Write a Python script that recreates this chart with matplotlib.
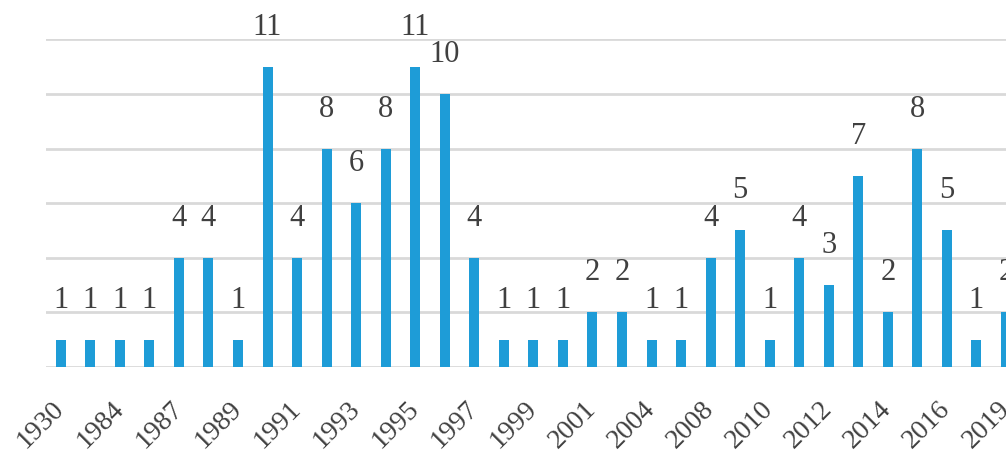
import matplotlib
matplotlib.use("Agg")
import matplotlib.pyplot as plt
from matplotlib.transforms import ScaledTranslation

# counts per year (33 bars, only every other year is labelled)
values = [1, 1, 1, 1, 4, 4, 1, 11, 4, 8, 6, 8, 11, 10, 4, 1, 1,
          1, 2, 2, 1, 1, 4, 5, 1, 4, 3, 7, 2, 8, 5, 1, 2]
tick_labels = ['1930', '1984', '1987', '1989', '1991', '1993', '1995', '1997',
               '1999', '2001', '2004', '2008', '2010', '2012', '2014', '2016', '2019']
y_ticks = [0, 2, 4, 6, 8, 10, 12]

bar_color = '#1E9CD7'
text_color = '#404040'
grid_color = '#D9D9D9'

plt.rcParams['font.family'] = ['Liberation Serif', 'DejaVu Serif']

fig = plt.figure(figsize=(10.06, 4.54), dpi=100)
ax = fig.add_axes([46 / 1006, (454 - 367) / 454, 1 - 46 / 1006, (367 - 39.3) / 454])

x = list(range(len(values)))
bars = ax.bar(x, values, width=0.34, color=bar_color, zorder=3)

for xi, v in zip(x, values):
    ax.annotate(str(v), (xi, v), xytext=(0, 18), textcoords='offset points',
                ha='center', va='bottom', fontsize=22, color=text_color,
                annotation_clip=False)

ax.set_xlim(-0.5, 32.0)
ax.set_ylim(0, 12)
ax.set_yticks(y_ticks)
ax.yaxis.grid(True, color=grid_color, linewidth=2, zorder=0)
ax.tick_params(axis='y', length=0, labelleft=False)

ax.set_xticks(x[::2])
ax.set_xticklabels(tick_labels, rotation=45, ha='right', va='top',
                   rotation_mode='anchor', fontsize=20, color=text_color)
ax.tick_params(axis='x', length=0, pad=21)
# nudge the rotated year labels a little to the left
shift = ScaledTranslation(-9 / 100, 0, fig.dpi_scale_trans)
for lbl in ax.get_xticklabels():
    lbl.set_transform(lbl.get_transform() + shift)

for side in ['top', 'right', 'left', 'bottom']:
    ax.spines[side].set_visible(False)

fig.savefig('out.png', dpi=100)
